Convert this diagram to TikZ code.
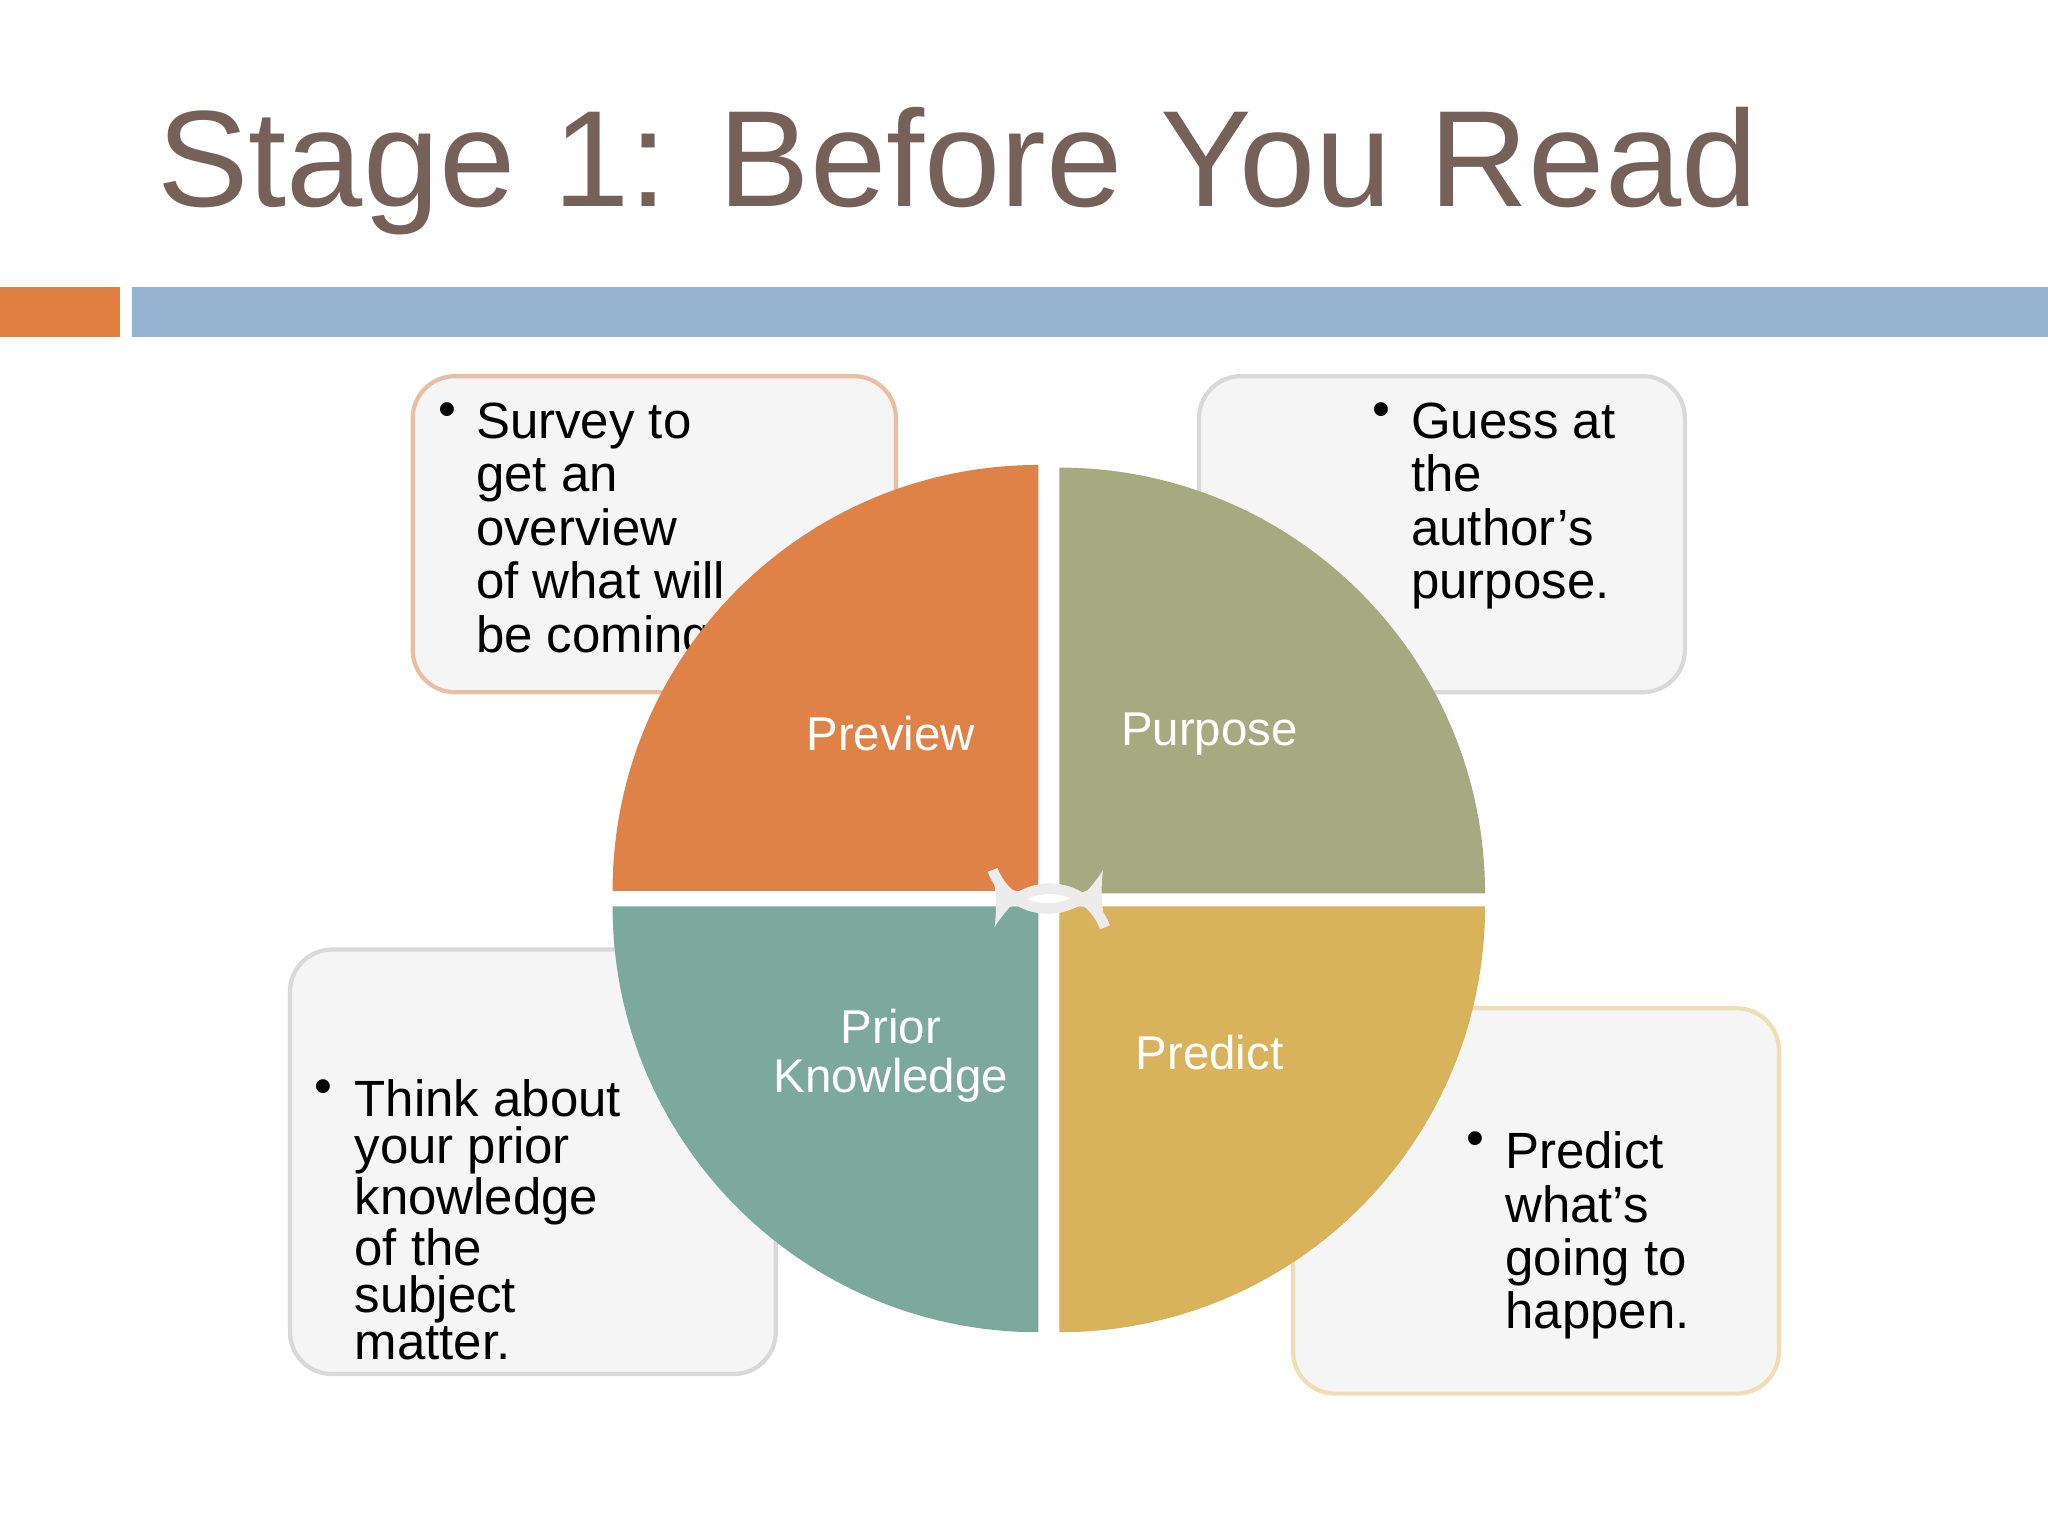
\documentclass[tikz,border=0pt]{standalone}
\usepackage{fontspec}
\setmainfont{Liberation Sans}
\definecolor{ttl}{RGB}{118,97,90}
\definecolor{obar}{RGB}{224,127,64}
\definecolor{bbar}{RGB}{149,179,208}
\definecolor{qo}{RGB}{223,130,71}
\definecolor{qg}{RGB}{165,170,128}
\definecolor{qt}{RGB}{125,169,156}
\definecolor{qy}{RGB}{217,178,92}
\definecolor{bo}{RGB}{232,190,165}
\definecolor{by}{RGB}{238,222,180}
\begin{document}
\begin{tikzpicture}[x=0.01306cm,y=-0.01306cm,
  box/.style={rounded corners=12pt,fill=gray!8,line width=1.2pt},
  btxt/.style={anchor=north west,align=left,inner sep=0pt,font=\fontsize{14.5}{15.2}\selectfont,text=black},
  qlab/.style={text=white,font=\fontsize{13.5}{14}\selectfont,align=center},
  carrow/.style={white!85!gray,line width=3pt,-latex}]
\useasboundingbox (0,0) rectangle (1568,1176);
\fill[white] (0,0) rectangle (1568,1176);
\node[anchor=base west,inner sep=0pt,text=ttl,font=\fontsize{39}{40}\selectfont] (title) at (120,158) {Stage 1: Before You Read};
\fill[obar] (0,220) rectangle (92,258);
\fill[bbar] (101,220) rectangle (1568,258);
% boxes
\draw[box,draw=bo] (316,288) rectangle (686,530);
\draw[box,draw=gray!30] (918,288) rectangle (1290,530);
\draw[box,draw=gray!30] (222,727) rectangle (594,1052);
\draw[box,draw=by] (990,772) rectangle (1362,1067);
\node[btxt] (t1) at (335,308) {•};
\node[btxt] (t1b) at (364,308) {Survey to\\get an\\overview\\of what will\\be coming};
\node[btxt] (t2) at (1050,308) {•};
\node[btxt] (t2b) at (1080,308) {Guess at\\the\\author’s\\purpose.};
\node[btxt] (t3) at (240,826) {•};
\node[btxt,font=\fontsize{14.5}{13.4}\selectfont] (t3b) at (271,826) {Think about\\your prior\\knowledge\\of the\\subject\\matter.};
\node[btxt] (t4) at (1122,866) {•};
\node[btxt] (t4b) at (1152,866) {Predict\\what’s\\going to\\happen.};
% quadrants
\def\R{326}
\fill[qo] (795,682) -- (795-\R,682) arc[start angle=180,end angle=90,x radius=\R,y radius=-\R] -- cycle;
\fill[qg] (811,684) -- (811,684-\R) arc[start angle=90,end angle=0,x radius=\R,y radius=-\R] -- cycle;
\fill[qt] (795,694) -- (795-\R,694) arc[start angle=180,end angle=270,x radius=\R,y radius=-\R] -- cycle;
\fill[qy] (811,694) -- (811+\R,694) arc[start angle=0,end angle=-90,x radius=\R,y radius=-\R] -- cycle;
\node[qlab] (q1) at (682,562) {Preview};
\node[qlab] (q2) at (926,562) {Purpose};
\node[qlab] (q3) at (682,808) {Prior\\Knowledge};
\node[qlab] (q4) at (926,806) {Predict};
% center arrows
\draw[carrow] (760,666) arc[start angle=160,end angle=20,radius=45];
\draw[carrow] (846,710) arc[start angle=-20,end angle=-160,radius=45];
\end{tikzpicture}
\end{document}
